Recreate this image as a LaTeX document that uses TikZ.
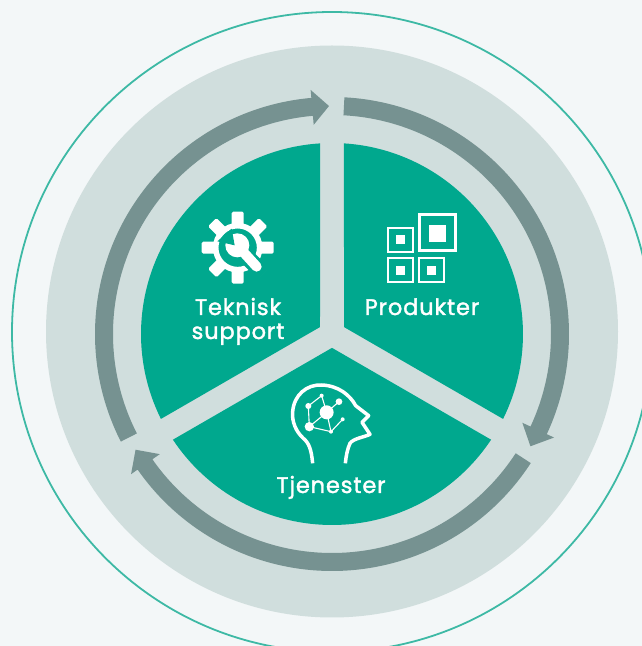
\documentclass[tikz,border=0pt]{standalone}
\usepackage{fontspec}
\setmainfont{Poppins}[LetterSpace=3.8,FakeBold=1.6]
\definecolor{bgc}{HTML}{F3F7F8}
\definecolor{ringc}{HTML}{3DB9A5}
\definecolor{diskc}{HTML}{D0DEDD}
\definecolor{arrowc}{HTML}{769291}
\definecolor{greenc}{HTML}{00A88E}
\newcommand{\ringarrow}[3]{%
  \fill[arrowc] (#1:237) arc[start angle=#1,end angle=#2,radius=237] -- (#2:245) -- (#3:228) -- (#2:210) -- (#2:219) arc[start angle=#2,end angle=#1,radius=219] -- cycle;}
\tikzset{
  lbl/.style={text=white,font=\fontsize{22.5}{24}\selectfont,anchor=base,inner sep=0pt},
  iconline/.style={draw=white,line width=3.5pt,fill=none,line cap=butt,line join=round},
}
\begin{document}
\begin{tikzpicture}[x=1pt,y=1pt]
\useasboundingbox (0,0) rectangle (642,646);
\fill[bgc] (0,0) rectangle (642,646);
\begin{scope}
  \clip (0,0) rectangle (642,646);
  \draw[ringc,line width=1.8pt] (332,314) circle[radius=320];
\end{scope}
\fill[diskc] (332,314.5) circle[radius=286];
\begin{scope}[shift={(332,312)}]
  \foreach \b in {30,150,270}{
    \pgfmathsetmacro{\sa}{\b+56.4}
    \pgfmathsetmacro{\ea}{\b-56.4}
    \fill[greenc] (\b:13.86) -- (\sa:191) arc[start angle=\sa,end angle=\ea,radius=191] -- cycle;
  }
  \ringarrow{207}{95}{90.75}
  \ringarrow{87}{-25}{-29.5}
  \ringarrow{-33}{-145.1}{-149.5}
\end{scope}
% Teknisk support icon
\begin{scope}[shift={(198,438)},x=0.3333pt,y=-0.3333pt]
  \draw[white,line width=5.6pt] (119,119) circle[radius=66];
  \foreach \a in {0,45,...,315}{
    \begin{scope}[shift={(119,119)},rotate=\a]
      \fill[white,rounded corners=1.5pt] (60,-18) rectangle (108,18);
    \end{scope}
  }
  \draw[greenc,line width=16pt] (150,150) -- (196,196);
  \fill[white] (118,112) circle[radius=36];
  \draw[white,line width=10pt,line cap=round] (125,120) -- (176,176);
  \fill[greenc] (110,112) -- (101,62) -- (58,100) -- cycle;
\end{scope}
% Produkter icon
\begin{scope}
  \draw[white,line width=3pt] (419.8,646-214.8) rectangle (455.8,646-250.8);
  \fill[white] (429,646-225) rectangle (446,646-242);
  \foreach \x/\y in {387.3/226.7,387.3/257.3,418.3/257.3}{
    \draw[white,line width=1.9pt] (\x+1,646-\y-1) rectangle (\x+25.6,646-\y-25);
    \fill[white] (\x+8.7,646-\y-8.7) rectangle (\x+17.7,646-\y-17.7);
  }
\end{scope}
% Tjenester icon
\begin{scope}[shift={(270,271)},x=0.3333pt,y=-0.3333pt]
  \draw[iconline] (128,265) .. controls (124,225) and (118,205) .. (100,190)
    .. controls (78,170) and (65,140) .. (68,110)
    .. controls (72,60) and (110,28) .. (155,30)
    .. controls (205,32) and (240,60) .. (257,92)
    -- (296,122) -- (276,142) -- (300,178)
    .. controls (285,186) and (250,190) .. (240,205)
    .. controls (232,222) and (228,245) .. (226,265);
  \draw[white,line width=1.1pt]
    (155,62) -- (115,93) -- (118,155) -- (170,112) -- (207,80)
    (170,112) -- (155,62)
    (170,112) -- (183,170) -- (118,155)
    (183,170) -- (218,133);
  \foreach \x/\y/\r in {170/112/21,118/155/14,207/80/10,115/93/9,155/62/6,183/170/6,218/133/6}{
    \fill[white] (\x,\y) circle[radius=\r];
  }
\end{scope}
\node[lbl] (teknisk) at (238,646-315) {Teknisk};
\node[lbl] (support) at (238,646-339) {support};
\node[lbl] (produkter) at (422,646-315) {Produkter};
\node[lbl] (tjenester) at (331,646-493) {Tjenester};
\end{tikzpicture}
\end{document}
